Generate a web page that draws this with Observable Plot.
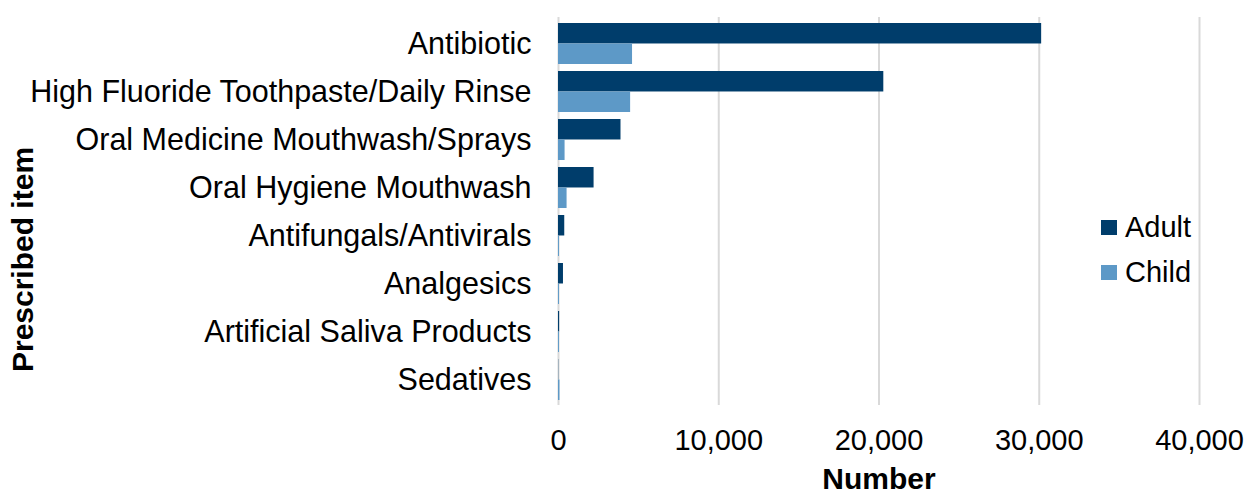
<!DOCTYPE html>
<html>
<head>
<meta charset="utf-8">
<script src="https://cdn.jsdelivr.net/npm/d3@7"></script>
<script src="https://cdn.jsdelivr.net/npm/@observablehq/plot@0.6"></script>
<style>
  body { margin: 0; background: #fff; }
  #wrap { position: relative; width: 1247px; height: 493px; font-family: "Liberation Sans", Arial, sans-serif; }
  #wrap svg { position: absolute; left: 0; top: 0; }
  .lg { position: absolute; display: flex; align-items: center; font-size: 29px; color: #000; line-height: 1; }
  .lg span.sw { display: inline-block; width: 16px; height: 15px; margin-right: 8px; }
</style>
</head>
<body>
<div id="wrap"></div>
<script>
const categories = [
  "Antibiotic",
  "High Fluoride Toothpaste/Daily Rinse",
  "Oral Medicine Mouthwash/Sprays",
  "Oral Hygiene Mouthwash",
  "Antifungals/Antivirals",
  "Analgesics",
  "Artificial Saliva Products",
  "Sedatives"
];
const adult = [30150, 20300, 3900, 2220, 390, 310, 70, 15];
const child = [4620, 4500, 410, 535, 60, 60, 60, 90];
const seriesNames = ["Adult", "Child"];
const seriesColors = ["#003D6B", "#5D99C7"];
const xTicks = [0, 10000, 20000, 30000, 40000];

const W = 1247, H = 493, mt = 17, mb = 88, ml = 558, mr = 48;
const pI = 0.15, pO = 0.093;
const step = (H - mt - mb) / (categories.length - pI + 2 * pO);
const half = step * (1 - pI) / 2;

const data = categories.map((c, i) => ({item: c, adult: adult[i], child: child[i]}));

const chart = Plot.plot({
  width: W, height: H,
  marginTop: mt, marginBottom: mb, marginLeft: ml, marginRight: mr,
  style: {fontFamily: "'Liberation Sans', Arial, sans-serif", fontSize: "29px", color: "#000", background: "#fff"},
  x: {domain: [0, 40000], label: null},
  y: {domain: categories, paddingInner: pI, paddingOuter: pO, label: null},
  marks: [
    Plot.ruleX(xTicks, {stroke: "#d9d9d9", strokeWidth: 2}),
    Plot.barX(data, {x: "adult", y: "item", fill: seriesColors[0], insetBottom: half}),
    Plot.barX(data, {x: "child", y: "item", fill: seriesColors[1], insetTop: half}),
    Plot.axisX({ticks: xTicks, tickFormat: d3.format(","), tickSize: 0, tickPadding: 24, label: null, fontSize: 29}),
    Plot.axisY({tickSize: 0, tickPadding: 27, label: null, fontSize: 30.5}),
    Plot.text(["Number"], {text: d => d, frameAnchor: "bottom", dy: 83, fontWeight: "bold", fontSize: 30, fill: "#000"}),
    Plot.text(["Prescribed item"], {text: d => d, frameAnchor: "left", textAnchor: "middle", dx: 23 - ml, dy: 259 - (mt + (H - mt - mb) / 2), rotate: -90, fontWeight: "bold", fontSize: 30, fill: "#000"})
  ]
});
const wrap = document.getElementById("wrap");
wrap.appendChild(chart);

const legendTops = [213, 258];
seriesNames.forEach((name, i) => {
  const d = document.createElement("div");
  d.className = "lg";
  d.style.left = "1101px";
  d.style.top = legendTops[i] + "px";
  d.innerHTML = `<span class="sw" style="background:${seriesColors[i]}"></span><span>${name}</span>`;
  wrap.appendChild(d);
});
</script>
</body>
</html>
